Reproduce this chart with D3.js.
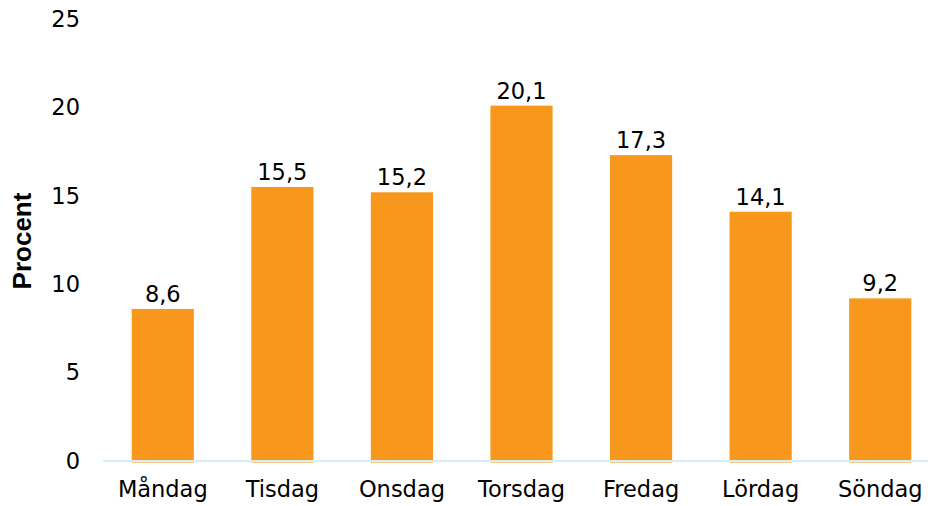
<!DOCTYPE html>
<html>
<head>
<meta charset="utf-8">
<script src="https://cdn.jsdelivr.net/npm/d3@7"></script>
<style>
  body { margin: 0; background: #fff; }
  text { font-family: "DejaVu Sans", Verdana, sans-serif; fill: #000; }
</style>
</head>
<body>
<div id="chart"></div>
<script>
// data
let days = ["Måndag", "Tisdag", "Onsdag", "Torsdag", "Fredag", "Lördag", "Söndag"];
let percent = [8.6, 15.5, 15.2, 20.1, 17.3, 14.1, 9.2];
let yTicks = [0, 5, 10, 15, 20, 25];

var width = 928, height = 506;
var plot = { left: 103, right: 940, top: 19, bottom: 461 };
var fontSize = "22.5px";

var svg = d3.select("#chart").append("svg")
    .attr("width", width)
    .attr("height", height);

var x = d3.scaleBand()
    .domain(days)
    .range([plot.left, plot.right])
    .paddingInner(0.48)
    .paddingOuter(0.24);

var y = d3.scaleLinear()
    .domain([0, 25])
    .range([plot.bottom, plot.top]);

var fmt = function (v) { return d3.format(".1f")(v).replace(".", ","); };

// y tick labels, no axis line
var yAxis = d3.axisLeft(y).tickValues(yTicks).tickSize(0).tickPadding(0);
svg.append("g")
    .attr("transform", "translate(80,0)")
    .call(yAxis)
    .call(g => g.select(".domain").remove())
    .selectAll("text")
    .style("font-size", fontSize)
    .style("font-family", "'DejaVu Sans', Verdana, sans-serif")
    .attr("fill", "#000");

// bars
svg.append("g").selectAll("rect")
    .data(percent)
    .enter()
    .append("rect")
    .attr("x", (d, i) => x(days[i]))
    .attr("y", d => y(d))
    .attr("width", x.bandwidth())
    .attr("height", d => y(0) - y(d) + 1.5)
    .attr("fill", "#f7981d");

// baseline
svg.append("line")
    .attr("x1", plot.left).attr("x2", width)
    .attr("y1", y(0)).attr("y2", y(0))
    .attr("stroke", "#d6eef9")
    .attr("stroke-width", 2);

// value labels
svg.append("g").selectAll("text")
    .data(percent)
    .enter()
    .append("text")
    .attr("x", (d, i) => x(days[i]) + x.bandwidth() / 2)
    .attr("y", d => y(d) - 7)
    .attr("text-anchor", "middle")
    .style("font-size", fontSize)
    .text(d => fmt(d));

// category labels
var xAxis = d3.axisBottom(x).tickSize(0).tickPadding(0);
svg.append("g")
    .attr("transform", "translate(0," + (plot.bottom + 20) + ")")
    .call(xAxis)
    .call(g => g.select(".domain").remove())
    .selectAll("text")
    .style("font-size", fontSize)
    .style("font-family", "'DejaVu Sans', Verdana, sans-serif")
    .attr("fill", "#000");

// y title
svg.append("text")
    .attr("transform", "translate(31,241) rotate(-90)")
    .attr("text-anchor", "middle")
    .style("font-family", "'Liberation Sans', Arial, sans-serif")
    .style("font-weight", "bold")
    .style("font-size", "26px")
    .text("Procent");
</script>
</body>
</html>
